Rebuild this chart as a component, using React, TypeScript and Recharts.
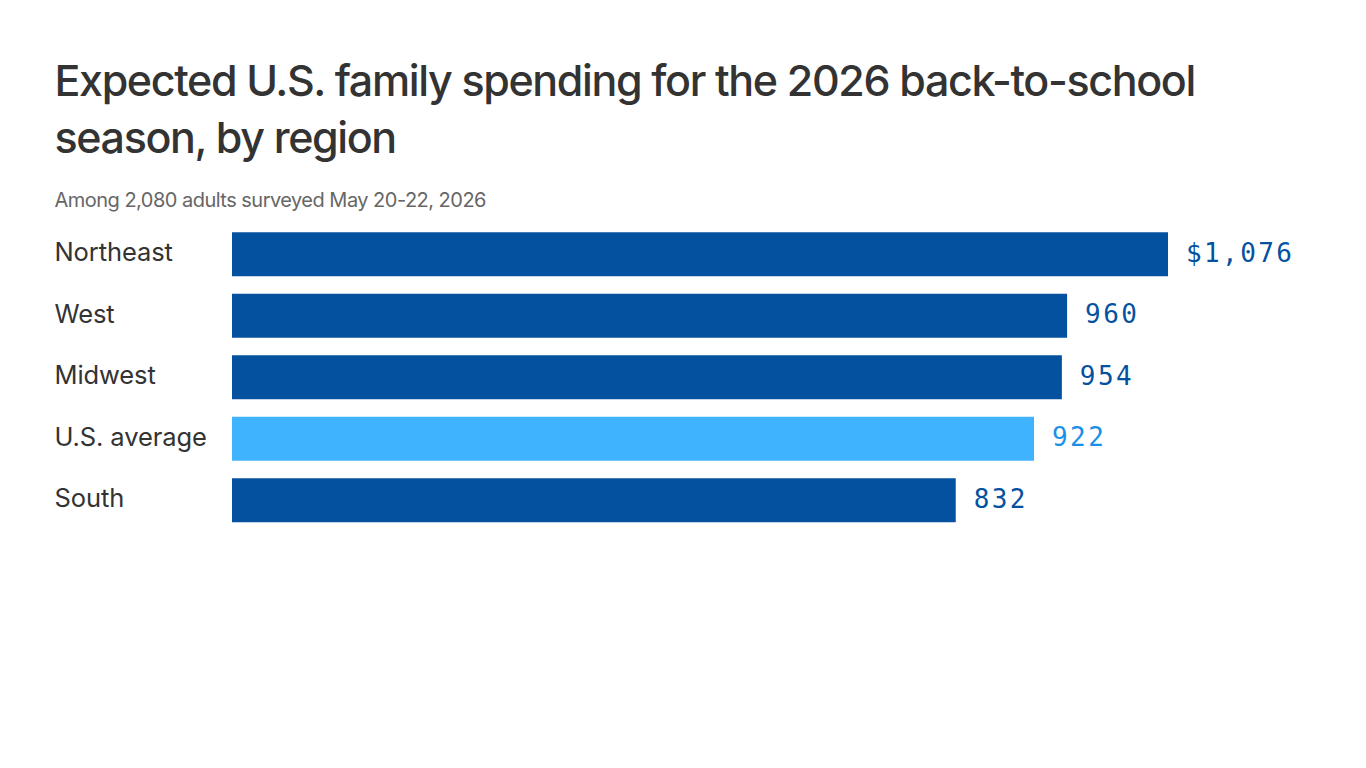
import React from "react";
import { BarChart, Bar, XAxis, YAxis, Cell, LabelList } from "recharts";

const regions = ["Northeast", "West", "Midwest", "U.S. average", "South"];
const spending = [1076, 960, 954, 922, 832];
const highlighted = "U.S. average";
const rows = regions.map((region, i) => ({ region, spending: spending[i] }));

const DARK = "#04529f";
const LIGHT = "#40b3ff";
const LABEL_LIGHT = "#1a8fe6";

const CategoryTick = (props: any) => (
  <text x={54.5} y={props.y} dy={7} fontFamily="Inter" fontSize={25.5} letterSpacing={-0.1} fill="#333333" textAnchor="start">
    {props.payload.value}
  </text>
);

const ValueLabel = (props: any) => {
  const { x, y, width, height, index } = props;
  const v = spending[index];
  return (
    <text
      x={x + width + 18}
      y={y + height / 2}
      dy={7.5}
      fontFamily="DejaVu Sans Mono"
      fontSize={26}
      letterSpacing={2.4}
      fill={regions[index] === highlighted ? LABEL_LIGHT : DARK}
    >
      {index === 0 ? "$" + v.toLocaleString("en-US") : String(v)}
    </text>
  );
};

export default function App() {
  return (
    <div style={{ position: "absolute", left: 0, top: 0, width: 1366, height: 768, background: "#fff", overflow: "hidden" }}>
      <div style={{ position: "absolute", left: 54.5, top: 52, width: 1200, fontFamily: "Inter", fontWeight: 500, fontSize: 43, lineHeight: "57px", color: "#333333", letterSpacing: -1.37 }}>
        Expected U.S. family spending for the 2026 back-to-school season, by region
      </div>
      <div style={{ position: "absolute", left: 54.5, top: 187, fontFamily: "Inter", fontSize: 20, lineHeight: "26px", color: "#666666", letterSpacing: -0.52 }}>
        Among 2,080 adults surveyed May 20-22, 2026
      </div>
      <BarChart
        width={1366}
        height={768}
        data={rows}
        layout="vertical"
        barCategoryGap={17.5}
        margin={{ top: 223.25, right: 198, bottom: 237.25, left: 55 }}
      >
        <XAxis type="number" hide domain={[0, 1076]} />
        <YAxis type="category" dataKey="region" width={177} axisLine={false} tickLine={false} tick={<CategoryTick />} interval={0} />
        <Bar dataKey="spending" barSize={44} isAnimationActive={false}>
          {rows.map((r) => (
            <Cell key={r.region} fill={r.region === highlighted ? LIGHT : DARK} />
          ))}
          <LabelList dataKey="spending" content={<ValueLabel />} />
        </Bar>
      </BarChart>
    </div>
  );
}
